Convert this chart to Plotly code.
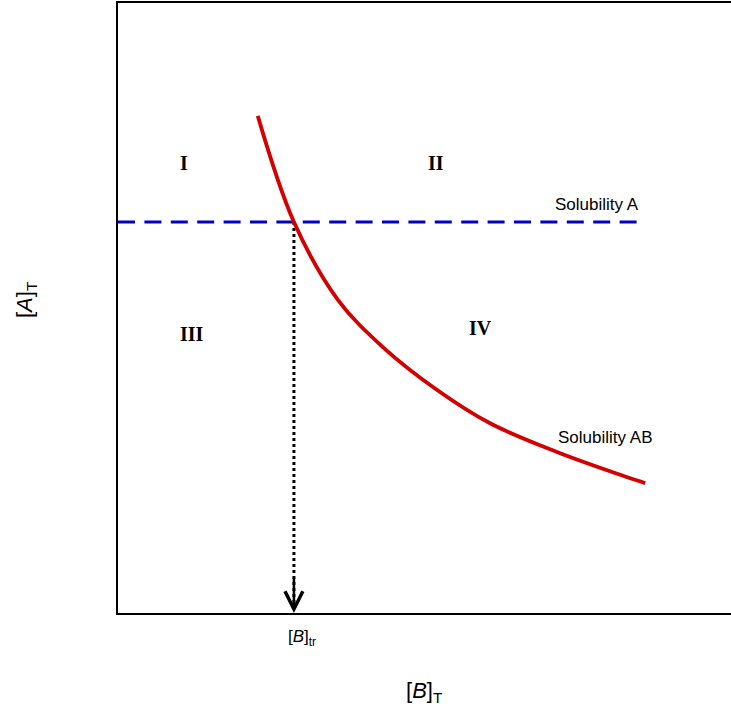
import plotly.graph_objects as go

# Data (arbitrary units: x = [B]_T, y = [A]_T)
curve_x = [2.28, 2.87, 3.59, 4.32, 5.20, 6.07, 7.16, 8.24, 8.60]
curve_y = [8.15, 6.41, 5.13, 4.36, 3.66, 3.11, 2.64, 2.25, 2.13]
sol_a_x = [0.0, 8.47]
sol_a_level = 6.41
b_tr = 2.87
region_labels = ["I", "II", "III", "IV"]
region_x = [1.08, 5.19, 1.21, 5.92]
region_y = [7.38, 7.38, 4.57, 4.67]

fig = go.Figure()

# Solubility A (dashed blue)
fig.add_trace(go.Scatter(x=sol_a_x, y=[sol_a_level] * len(sol_a_x), mode="lines",
                         line=dict(color="#0000C8", width=3.2, dash="17px,9.4px"),
                         hoverinfo="skip", showlegend=False))
# Transition dotted line
fig.add_trace(go.Scatter(x=[b_tr, b_tr], y=[sol_a_level, 0.15], mode="lines",
                         line=dict(color="black", width=3, dash="dot"),
                         hoverinfo="skip", showlegend=False))
# Solubility AB curve
fig.add_trace(go.Scatter(x=curve_x, y=curve_y, mode="lines",
                         line=dict(color="#D40000", width=3.8, shape="spline", smoothing=1.0),
                         hoverinfo="skip", showlegend=False))

annotations = []
for lbl, xx, yy in zip(region_labels, region_x, region_y):
    annotations.append(dict(x=xx, y=yy, xref="x", yref="y", text=f"<b>{lbl}</b>",
                            showarrow=False, xanchor="center", yanchor="middle",
                            font=dict(family="Liberation Serif", size=20, color="black")))

annotations += [
    dict(x=7.81, y=6.69, xref="x", yref="y", text="Solubility A", showarrow=False,
         xanchor="center", yanchor="middle",
         font=dict(family="Liberation Sans", size=17, color="black")),
    dict(x=7.96, y=2.87, xref="x", yref="y", text="Solubility AB", showarrow=False,
         xanchor="center", yanchor="middle",
         font=dict(family="Liberation Sans", size=17, color="black")),
    # arrow head at bottom of dotted line
    dict(x=b_tr, y=0.0, ax=b_tr, ay=0.6, xref="x", yref="y", axref="x", ayref="y",
         text="", showarrow=True, arrowhead=5, arrowsize=1.4, arrowwidth=2.5,
         arrowcolor="black", standoff=0),
    dict(x=(302 - 118) / 613, y=(613 - 638) / 610, xref="paper", yref="paper",
         text="[<i>B</i>]<sub>tr</sub>", showarrow=False, xanchor="center", yanchor="middle",
         font=dict(family="Liberation Sans", size=17, color="black")),
    dict(x=(424 - 118) / 613, y=(613 - 692) / 610, xref="paper", yref="paper",
         text="[<i>B</i>]<sub>T</sub>", showarrow=False, xanchor="center", yanchor="middle",
         font=dict(family="Liberation Sans", size=22, color="black")),
    dict(x=(26 - 118) / 613, y=(613 - 300) / 610, xref="paper", yref="paper",
         text="[<i>A</i>]<sub>T</sub>", showarrow=False, textangle=-90,
         xanchor="center", yanchor="middle",
         font=dict(family="Liberation Sans", size=22, color="black")),
]

fig.update_layout(
    width=731, height=712,
    margin=dict(l=118, r=0, t=3, b=99),
    paper_bgcolor="white", plot_bgcolor="white",
    annotations=annotations,
    xaxis=dict(range=[0, 10], showgrid=False, zeroline=False, showticklabels=False,
               ticks="", showline=True, mirror=True, linecolor="black", linewidth=2),
    yaxis=dict(range=[0, 10], showgrid=False, zeroline=False, showticklabels=False,
               ticks="", showline=True, linecolor="black", linewidth=2),
)

fig.write_html("out.html")
